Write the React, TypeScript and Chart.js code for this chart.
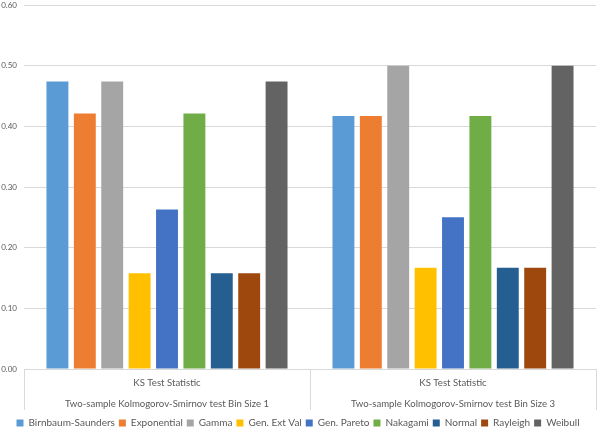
import React, { useEffect, useRef } from "react";
import { Chart, registerables } from "chart.js";

Chart.register(...registerables);

const categoryTop = ["KS Test Statistic", "KS Test Statistic"];
const categoryBottom = [
  "Two-sample Kolmogorov-Smirnov test Bin Size 1",
  "Two-sample Kolmogorov-Smirnov test Bin Size 3",
];

const seriesNames = [
  "Birnbaum-Saunders",
  "Exponential",
  "Gamma",
  "Gen. Ext Val",
  "Gen. Pareto",
  "Nakagami",
  "Normal",
  "Rayleigh",
  "Weibull",
];

const seriesColors = [
  "#5B9BD5",
  "#ED7D31",
  "#A5A5A5",
  "#FFC000",
  "#4472C4",
  "#70AD47",
  "#255E91",
  "#9E480E",
  "#636363",
];

const birnbaumSaunders = [0.474, 0.417];
const exponential = [0.421, 0.417];
const gamma = [0.474, 0.5];
const genExtVal = [0.158, 0.167];
const genPareto = [0.263, 0.25];
const nakagami = [0.421, 0.417];
const normal = [0.158, 0.167];
const rayleigh = [0.158, 0.167];
const weibull = [0.474, 0.5];

const seriesValues = [
  birnbaumSaunders,
  exponential,
  gamma,
  genExtVal,
  genPareto,
  nakagami,
  normal,
  rayleigh,
  weibull,
];

const yTicks = { min: 0, max: 0.6, step: 0.1 };

const categorySeparators = {
  id: "categorySeparators",
  afterDraw(chart: any) {
    const xs = chart.scales.x;
    const ctx = chart.ctx;
    const n = xs.ticks.length;
    const edges: number[] = [xs.left];
    for (let i = 0; i < n - 1; i++) {
      edges.push((xs.getPixelForTick(i) + xs.getPixelForTick(i + 1)) / 2);
    }
    edges.push(xs.right);
    const top = chart.chartArea.bottom;
    ctx.save();
    ctx.strokeStyle = "#D9D9D9";
    ctx.lineWidth = 1;
    ctx.beginPath();
    edges.forEach((e) => {
      const x = Math.round(e) + 0.5;
      ctx.moveTo(x, top);
      ctx.lineTo(x, top + 41);
    });
    ctx.stroke();
    ctx.restore();
  },
};

export default function App() {
  const canvasRef = useRef<HTMLCanvasElement | null>(null);

  useEffect(() => {
    const canvas = canvasRef.current;
    if (!canvas) return;
    const labels = categoryTop.map((t, i) => [t, categoryBottom[i]]);
    const chart = new Chart(canvas, {
      type: "bar",
      data: {
        labels,
        datasets: seriesNames.map((name, i) => ({
          label: name,
          data: seriesValues[i],
          backgroundColor: seriesColors[i],
          borderWidth: 0,
          categoryPercentage: 0.862,
          barPercentage: 0.8,
        })),
      },
      plugins: [categorySeparators],
      options: {
        responsive: false,
        animation: false,
        layout: { padding: { top: 5, right: 4, left: 0, bottom: -7 } },
        font: { family: "Lato" },
        plugins: {
          tooltip: { enabled: false },
          legend: {
            position: "bottom",
            labels: {
              boxWidth: 7,
              boxHeight: 7,
              padding: 4,
              color: "#595959",
              font: { family: "Lato", size: 10 },
            },
          },
        },
        scales: {
          x: {
            grid: {
              display: true,
              drawOnChartArea: false,
              drawTicks: false,
              offset: true,
              color: "#D9D9D9",
            },
            border: { display: true, color: "#D9D9D9" },
            ticks: {
              padding: 3,
              color: "#595959",
              maxRotation: 0,
              autoSkip: false,
              font: { family: "Lato", size: 9.6, lineHeight: 2.2 },
            },
            afterFit: (scale: any) => {
              scale.height = 45;
            },
          },
          y: {
            min: yTicks.min,
            max: yTicks.max,
            ticks: {
              stepSize: yTicks.step,
              color: "#595959",
              padding: 7,
              font: { family: "Lato", size: 8 },
              callback: (v: any) => Number(v).toFixed(2),
            },
            grid: { color: "#D9D9D9", drawTicks: false },
            border: { display: false },
            afterFit: (scale: any) => {
              scale.width = 24;
              scale.paddingTop = 0;
              scale.paddingBottom = 0;
            },
          },
        },
      },
    });
    return () => chart.destroy();
  }, []);

  return (
    <div style={{ position: "absolute", left: 0, top: 0, width: 600, height: 431, background: "#fff" }}>
      <canvas ref={canvasRef} width={600} height={431} />
    </div>
  );
}
